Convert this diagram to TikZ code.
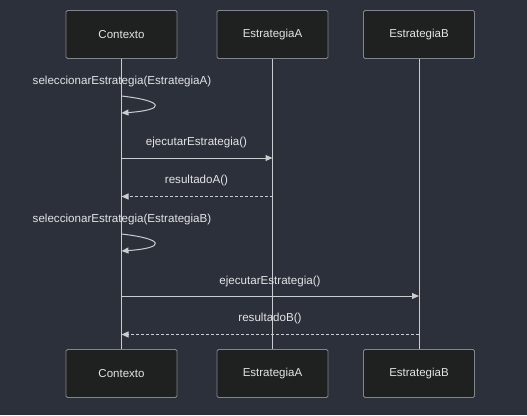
\documentclass[tikz,border=0pt]{standalone}
\usepackage{fontspec}
\setmainfont{Liberation Sans}
\usetikzlibrary{arrows.meta}
\definecolor{bg}{HTML}{2B303B}
\definecolor{boxfill}{HTML}{1F2020}
\definecolor{boxline}{HTML}{81858C}
\definecolor{txt}{HTML}{E4E4E4}
\definecolor{ln}{HTML}{CCCCCC}
\begin{document}
\begin{tikzpicture}[x=1pt,y=-1pt,
  actor/.style={draw=boxline, fill=boxfill, rounded corners=1.5pt, minimum width=111pt, minimum height=48pt, text=txt, font=\fontsize{11.5}{13}\selectfont, line width=0.8pt},
  life/.style={draw=ln, line width=1pt},
  msg/.style={draw=ln, line width=1pt, -{Triangle[length=7pt,width=6pt]}},
  reply/.style={msg, dash pattern=on 3pt off 2pt},
  lbl/.style={text=txt, font=\fontsize{11.6}{13}\selectfont, inner sep=0pt}]
\fill[bg] (0,0) rectangle (527,415);
\useasboundingbox (0,0) rectangle (527,415);
\node[actor] (cT) at (121.5,34.5) {Contexto};
\node[actor] (aT) at (272.5,34.5) {EstrategiaA};
\node[actor] (bT) at (419,34.5) {EstrategiaB};
\node[actor] (cB) at (121.5,373.5) {Contexto};
\node[actor] (aB) at (272.5,373.5) {EstrategiaA};
\node[actor] (bB) at (419,373.5) {EstrategiaB};
\draw[life] (cT.south) -- (cB.north);
\draw[life] (aT.south) -- (aB.north);
\draw[life] (bT.south) -- (bB.north);
% self call 1
\coordinate (s1a) at (cT.south |- 0,96);
\coordinate (s1b) at (cT.south |- 0,113);
\node[lbl] (l1) at (122,81.5) {seleccionarEstrategia(EstrategiaA)};
\draw[msg] (s1a) .. controls ([xshift=44pt,yshift=-5pt]s1a) and ([xshift=44pt,yshift=3pt]s1b) .. (s1b);
% call A
\coordinate (m2s) at (cT.south |- 0,158);
\coordinate (m2e) at (aT.south |- 0,158);
\node[lbl] (l2) at (196.5,142.5) {ejecutarEstrategia()};
\draw[msg] (m2s) -- (m2e);
% reply A
\coordinate (m3s) at (aT.south |- 0,196.5);
\coordinate (m3e) at (cT.south |- 0,196.5);
\node[lbl] (l3) at (196.5,180.5) {resultadoA()};
\draw[reply] (m3s) -- (m3e);
% self call 2
\coordinate (s2a) at (cT.south |- 0,234);
\coordinate (s2b) at (cT.south |- 0,251);
\node[lbl] (l4) at (122,219.5) {seleccionarEstrategia(EstrategiaB)};
\draw[msg] (s2a) .. controls ([xshift=44pt,yshift=-5pt]s2a) and ([xshift=44pt,yshift=3pt]s2b) .. (s2b);
% call B
\coordinate (m5s) at (cT.south |- 0,296);
\coordinate (m5e) at (bT.south |- 0,296);
\node[lbl] (l5) at (270,281) {ejecutarEstrategia()};
\draw[msg] (m5s) -- (m5e);
% reply B
\coordinate (m6s) at (bT.south |- 0,334.5);
\coordinate (m6e) at (cT.south |- 0,334.5);
\node[lbl] (l6) at (270,318.5) {resultadoB()};
\draw[reply] (m6s) -- (m6e);
\end{tikzpicture}
\end{document}
